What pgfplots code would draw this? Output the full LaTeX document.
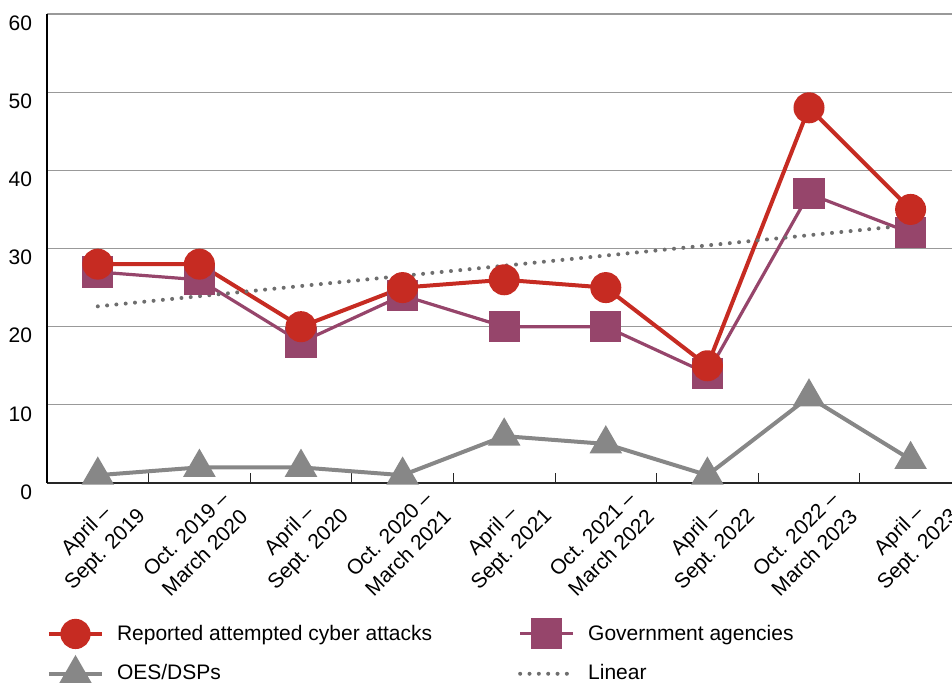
\documentclass[border=0pt]{standalone}
\usepackage{pgfplots}
\pgfplotsset{compat=1.18}
\usepackage{fontspec}
\setmainfont{Liberation Sans}
\definecolor{cred}{HTML}{C62B22}
\definecolor{cpur}{HTML}{96456B}
\definecolor{cgray}{HTML}{878787}
\definecolor{cdot}{HTML}{6E6E6E}
\definecolor{cgrid}{HTML}{999999}
\begin{document}
\begin{tikzpicture}
\begin{axis}[
  at={(23.5pt,99.5pt)}, anchor=south west,
  scale only axis, width=457.2pt, height=234.5pt,
  xmin=-0.5, xmax=8.5, ymin=0, ymax=60,
  clip=false,
  /pgf/number format/assume math mode=true,
  axis x line*=bottom, axis y line*=left,
  x axis line style={-, draw=black!85, line width=0.6pt},
  y axis line style={-, draw=black, line width=0.6pt},
  ytick={0,10,...,60},
  ymajorgrids, grid style={cgrid, line width=0.6pt},
  major tick length=0pt,
  xtick={0,...,8},
  xticklabels={{April –\\Sept. 2019},{Oct. 2019 –\\March 2020},{April –\\Sept. 2020},{Oct. 2020 –\\March 2021},{April –\\Sept. 2021},{Oct. 2021 –\\March 2022},{April –\\Sept. 2022},{Oct. 2022 –\\March 2023},{April –\\Sept. 2023}},
  extra x ticks={0.5,1.5,...,7.5},
  extra x tick labels={},
  extra x tick style={major tick length=5pt, tick align=inside, tick style={draw=black!85, line width=0.5pt}, grid=none},
  xticklabel style={xshift=20pt, yshift=-8pt, rotate=45, anchor=east, align=center, font=\fontsize{10.5}{13.4}\selectfont},
  yticklabel style={xshift=-4pt, yshift=-4.5pt, font=\fontsize{10.5}{13}\selectfont},
  legend image code/.code={\draw[mark repeat=2,mark phase=2,#1] plot coordinates {(0pt,0pt) (13.25pt,0pt) (26.5pt,0pt)};},
  legend columns=2,
  legend cell align=left,
  legend style={draw=none, fill=none, inner sep=0pt, outer sep=0pt,
    at={(0,-0.292)}, anchor=north west,
    font=\fontsize{10.5}{13}\selectfont, row sep=5.5pt,
    /tikz/every odd column/.append style={column sep=4.5pt},
    /tikz/every even column/.append style={column sep=41pt}},
]
\addlegendimage{cred, line width=1.6pt, mark=*, mark size=6.75pt, mark options={fill=cred, draw=cred}}
\addlegendimage{cpur, line width=1.5pt, mark=square*, mark size=7pt, mark options={fill=cpur, draw=cpur}}
\addlegendimage{cgray, line width=2pt, mark=triangle*, mark size=7.4pt, mark options={fill=cgray, draw=cgray}}
\addlegendimage{cdot, line width=2pt, line cap=round, dash pattern=on 0pt off 4.67pt}
% OES/DSPs
\addplot[forget plot, cgray, line width=2pt, mark=triangle*, mark size=7.4pt, mark options={fill=cgray, draw=cgray}]
  coordinates {(0,1) (1,2) (2,2) (3,1) (4,6) (5,5) (6,1) (7,11) (8,3)};
% Government agencies
\addplot[forget plot, cpur, line width=1.6pt, mark=square*, mark size=7pt, mark options={fill=cpur, draw=cpur}]
  coordinates {(0,27) (1,26) (2,18) (3,24) (4,20) (5,20) (6,14) (7,37) (8,32)};
% Reported attempted cyber attacks
\addplot[forget plot, cred, line width=2pt, mark=*, mark size=6.75pt, mark options={fill=cred, draw=cred}]
  coordinates {(0,28) (1,28) (2,20) (3,25) (4,26) (5,25) (6,15) (7,48) (8,35)};
% Linear trend
\addplot[forget plot, cdot, line width=2pt, line cap=round, dash pattern=on 0pt off 4.67pt]
  coordinates {(0,22.6) (8,33.0)};
\legend{Reported attempted cyber attacks, Government agencies, OES/DSPs, Linear}
\end{axis}
\pgfresetboundingbox
\useasboundingbox (0,0) rectangle (476pt,341pt);
\end{tikzpicture}
\end{document}
